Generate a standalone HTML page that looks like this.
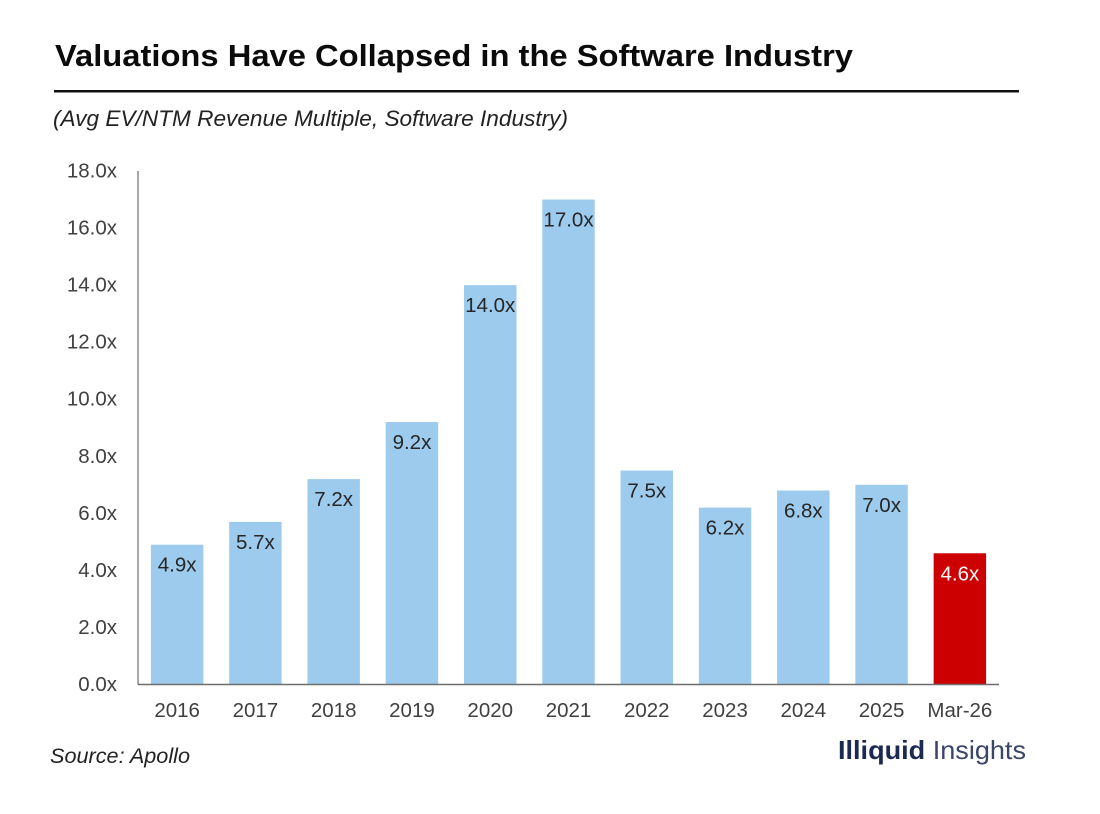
<!DOCTYPE html>
<html lang="en">
<head>
<meta charset="utf-8">
<title>Valuations Have Collapsed in the Software Industry</title>
<style>
  html, body { margin: 0; padding: 0; background: #fff; }
  svg { display: block; font-family: "Liberation Sans", sans-serif; }
</style>
</head>
<body>
<svg id="chart" width="1100" height="814" viewBox="0 0 1100 814" xmlns="http://www.w3.org/2000/svg">
  <rect x="0" y="0" width="1100" height="814" fill="#ffffff"/>
  <text x="55" y="66" font-size="31" font-weight="700" fill="#0b0b0b" textLength="798" lengthAdjust="spacingAndGlyphs">Valuations Have Collapsed in the Software Industry</text>
  <rect x="54" y="90" width="965" height="2.5" fill="#111111"/>
  <text x="53" y="126" font-size="22" font-style="italic" fill="#222222" textLength="515" lengthAdjust="spacingAndGlyphs">(Avg EV/NTM Revenue Multiple, Software Industry)</text>
  <g id="plot"></g>
  <text x="50" y="763" font-size="21" font-style="italic" fill="#222222" textLength="140" lengthAdjust="spacingAndGlyphs">Source: Apollo</text>
  <text x="838" y="759" font-size="26" fill="#1c2a52" textLength="188" lengthAdjust="spacingAndGlyphs"><tspan font-weight="700">Illiquid</tspan><tspan fill="#3a4668"> Insights</tspan></text>
</svg>
<script>
const categories = ['2016', '2017', '2018', '2019', '2020', '2021', '2022', '2023', '2024', '2025', 'Mar-26'];
const multiples = [4.9, 5.7, 7.2, 9.2, 14.0, 17.0, 7.5, 6.2, 6.8, 7.0, 4.6];
const yTicks = [0, 2, 4, 6, 8, 10, 12, 14, 16, 18];
const highlightCategories = ['Mar-26'];

const NS = 'http://www.w3.org/2000/svg';
const plot = document.getElementById('plot');
const plotLeft = 138, plotRight = 999, plotBottom = 684.5, plotTop = 171, yMax = 18;
const band = (plotRight - plotLeft) / categories.length;
const barWidth = band * 0.67;
const yScale = v => plotBottom - (v / yMax) * (plotBottom - plotTop);
const xCenter = i => plotLeft + band * (i + 0.5);

function make(tag, attrs, text) {
  const el = document.createElementNS(NS, tag);
  for (const k in attrs) el.setAttribute(k, attrs[k]);
  if (text !== undefined) el.textContent = text;
  return el;
}

yTicks.forEach(t => {
  const label = make('text', { x: 117, y: yScale(t) + 6.5, 'text-anchor': 'end', 'font-size': 20.5, fill: '#404040' }, t.toFixed(1) + 'x');
  
  
  plot.appendChild(label);
});

categories.forEach((c, i) => {
  const v = multiples[i];
  const hot = highlightCategories.includes(c);
  const bar = make('rect', { x: xCenter(i) - barWidth / 2, y: yScale(v), width: barWidth, height: plotBottom - yScale(v), fill: hot ? '#cc0000' : '#9dcbee' });
  
  
  plot.appendChild(bar);

  const value = make('text', { x: xCenter(i), y: yScale(v) + 27, 'text-anchor': 'middle', 'font-size': 20.5, fill: hot ? '#ffffff' : '#262626' }, v.toFixed(1) + 'x');
  
  
  plot.appendChild(value);

  const cat = make('text', { x: xCenter(i), y: 717, 'text-anchor': 'middle', 'font-size': 20.5, fill: '#404040' }, c);
  
  
  plot.appendChild(cat);
});

const yAxis = make('line', { x1: plotLeft, x2: plotLeft, y1: plotTop, y2: plotBottom, stroke: '#8c8c8c', 'stroke-width': 1.5 });


plot.appendChild(yAxis);

const xAxis = make('line', { x1: plotLeft, x2: plotRight, y1: plotBottom, y2: plotBottom, stroke: '#6e6e6e', 'stroke-width': 1.5 });


plot.appendChild(xAxis);
</script>
</body>
</html>
